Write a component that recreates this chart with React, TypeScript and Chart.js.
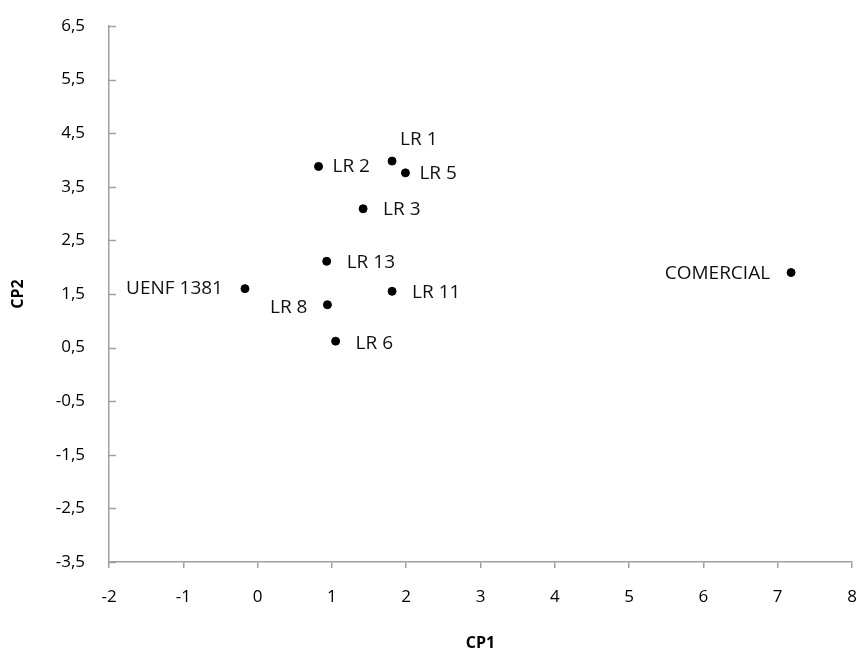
import React, { useEffect, useRef } from "react";
import { Chart, registerables } from "chart.js";

Chart.register(...registerables);

// ---- data ----
const names = ["LR 1", "LR 2", "LR 5", "LR 3", "LR 13", "UENF 1381", "LR 11", "LR 8", "LR 6", "COMERCIAL"];
const cp1 = [1.81, 0.82, 1.99, 1.42, 0.93, -0.17, 1.81, 0.94, 1.05, 7.18];
const cp2 = [3.98, 3.88, 3.76, 3.09, 2.11, 1.6, 1.55, 1.3, 0.62, 1.9];
const yTickValues = [-3.5, -2.5, -1.5, -0.5, 0.5, 1.5, 2.5, 3.5, 4.5, 5.5, 6.5];
const xAxisTitle = "CP1";
const yAxisTitle = "CP2";

// ---- label placement (style) ----
const labelPlacement: Record<string, { dx: number; dy: number; align: CanvasTextAlign }> = {
  "LR 1": { dx: 8, dy: -21, align: "left" },
  "LR 2": { dx: 14, dy: 0, align: "left" },
  "LR 5": { dx: 14, dy: 1, align: "left" },
  "LR 3": { dx: 20, dy: 1, align: "left" },
  "LR 13": { dx: 20, dy: 1, align: "left" },
  "UENF 1381": { dx: -22, dy: 0, align: "right" },
  "LR 11": { dx: 20, dy: 1, align: "left" },
  "LR 8": { dx: -20, dy: 3, align: "right" },
  "LR 6": { dx: 20, dy: 2, align: "left" },
  COMERCIAL: { dx: -21, dy: 1, align: "right" },
};

const FONT = "'Open Sans', 'Noto Sans', sans-serif";
const AXIS_COLOR = "#a0a0a0";

const extrasPlugin = {
  id: "extras",
  afterDatasetsDraw(chart: any) {
    const ctx = chart.ctx;
    const meta = chart.getDatasetMeta(0);
    ctx.save();
    ctx.font = `19px ${FONT}`;
    ctx.fillStyle = "#111";
    ctx.textBaseline = "middle";
    meta.data.forEach((el: any, i: number) => {
      const p = labelPlacement[names[i]] || { dx: 18, dy: 0, align: "left" };
      ctx.textAlign = p.align;
      ctx.fillText(names[i], el.x + p.dx, el.y + p.dy);
    });
    // inside tick marks on the y axis
    const ys = chart.scales.y;
    const left = chart.chartArea.left;
    ctx.strokeStyle = AXIS_COLOR;
    ctx.lineWidth = 1.5;
    ys.ticks.forEach((t: any) => {
      const py = Math.round(ys.getPixelForValue(t.value)) + 0.5;
      ctx.beginPath();
      ctx.moveTo(left, py);
      ctx.lineTo(left + 7, py);
      ctx.stroke();
    });
    ctx.restore();
  },
};

export default function App() {
  const canvasRef = useRef<HTMLCanvasElement | null>(null);

  useEffect(() => {
    document.body.style.margin = "0";
    const canvas = canvasRef.current;
    if (!canvas) return;
    const chart = new Chart(canvas, {
      type: "scatter",
      data: {
        datasets: [
          {
            data: cp1.map((x, i) => ({ x, y: cp2[i] })),
            backgroundColor: "#000",
            borderColor: "#000",
            pointRadius: 4,
            pointHoverRadius: 4,
          },
        ],
      },
      options: {
        animation: false,
        responsive: true,
        maintainAspectRatio: false,
        layout: { padding: { top: 26, right: 5, left: 0, bottom: 0 } },
        plugins: { legend: { display: false }, tooltip: { enabled: false } },
        scales: {
          x: {
            type: "linear",
            min: -2,
            max: 8,
            ticks: {
              stepSize: 1,
              padding: 19,
              color: "#000",
              font: { family: FONT, size: 17 },
            },
            grid: {
              drawOnChartArea: false,
              drawTicks: true,
              tickLength: 6,
              color: AXIS_COLOR,
              lineWidth: 1.5,
            },
            border: { color: AXIS_COLOR, width: 1.5 },
            title: {
              display: true,
              text: xAxisTitle,
              color: "#000",
              font: { family: FONT, size: 16, weight: "bold", lineHeight: 1 },
              padding: { top: 0, bottom: 0 },
            },
            afterFit(scale: any) {
              scale.height = 89;
              scale.paddingLeft = 0;
              scale.paddingRight = 0;
            },
          },
          y: {
            type: "linear",
            min: -3.5,
            max: 6.5,
            afterBuildTicks(scale: any) {
              scale.ticks = yTickValues.map((v) => ({ value: v }));
            },
            ticks: {
              padding: 24,
              color: "#000",
              font: { family: FONT, size: 17 },
              callback: (v: any) => Number(v).toFixed(1).replace(".", ","),
            },
            grid: {
              drawOnChartArea: false,
              drawTicks: false,
            },
            border: { color: AXIS_COLOR, width: 1.5 },
            title: {
              display: true,
              text: yAxisTitle,
              color: "#000",
              font: { family: FONT, size: 16, weight: "bold", lineHeight: 1 },
              padding: { top: 10, bottom: 0 },
            },
            afterFit(scale: any) {
              scale.width = 109;
              scale.paddingTop = 0;
              scale.paddingBottom = 0;
            },
          },
        },
      } as any,
      plugins: [extrasPlugin],
    });
    return () => chart.destroy();
  }, []);

  return (
    <div style={{ position: "relative", width: 857, height: 651 }}>
      <canvas ref={canvasRef} />
    </div>
  );
}
